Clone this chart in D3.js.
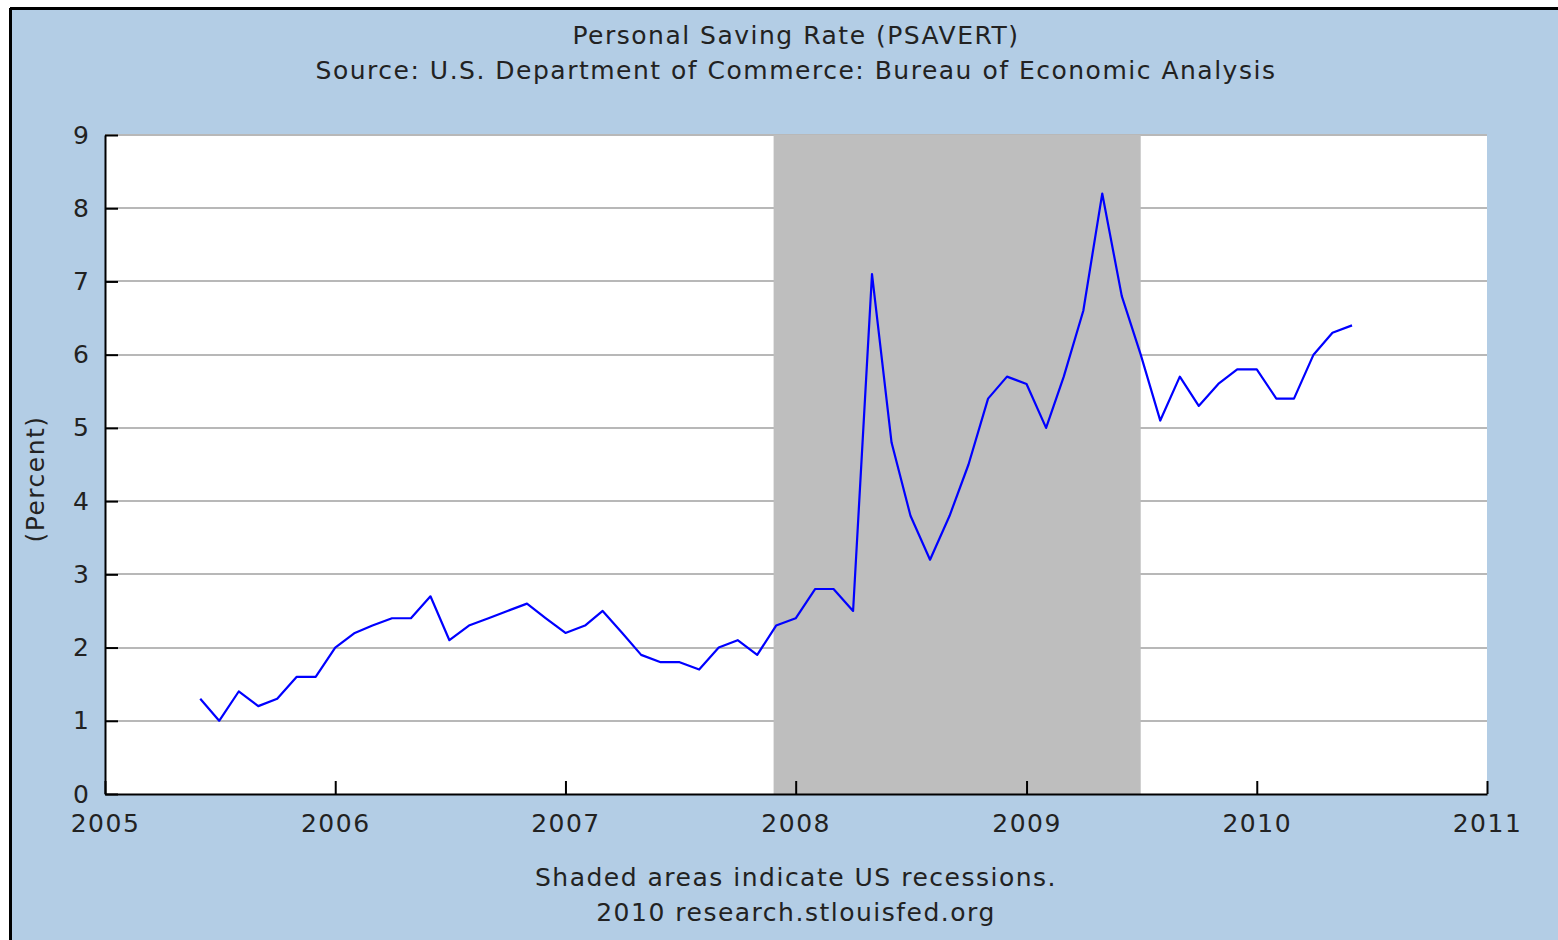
<!DOCTYPE html>
<html>
<head>
<meta charset="utf-8">
<script src="https://cdn.jsdelivr.net/npm/d3@7"></script>
<style>
  html, body { margin: 0; padding: 0; background: #ffffff; }
  svg { display: block; }
  text { font-family: "DejaVu Sans", Verdana, sans-serif; fill: #222; }
</style>
</head>
<body>
<svg id="chart" width="1558" height="940"></svg>
<script>
// ---- data ----
const startMonth = "2005-06";
const savingRate = [
  1.3, 1.0, 1.4, 1.2, 1.3, 1.6, 1.6,
  2.0, 2.2, 2.3, 2.4, 2.4, 2.7, 2.1, 2.3, 2.4, 2.5, 2.6, 2.4,
  2.2, 2.3, 2.5, 2.2, 1.9, 1.8, 1.8, 1.7, 2.0, 2.1, 1.9, 2.3,
  2.4, 2.8, 2.8, 2.5, 7.1, 4.8, 3.8, 3.2, 3.8, 4.5, 5.4, 5.7,
  5.6, 5.0, 5.7, 6.6, 8.2, 6.8, 6.0, 5.1, 5.7, 5.3, 5.6, 5.8,
  5.8, 5.4, 5.4, 6.0, 6.3, 6.4
];
const recessions = [["2007-11-27", "2009-07-01"]];
const xTickYears = [2005, 2006, 2007, 2008, 2009, 2010, 2011];
const yTicks = [0, 1, 2, 3, 4, 5, 6, 7, 8, 9];
const titleLines = ["Personal Saving Rate (PSAVERT)",
                    "Source: U.S. Department of Commerce: Bureau of Economic Analysis"];
const yLabel = "(Percent)";
const footLines = ["Shaded areas indicate US recessions.",
                   "2010 research.stlouisfed.org"];

// ---- build ----
const parseMonth = d3.timeParse("%Y-%m");
const parseDay = d3.timeParse("%Y-%m-%d");
const start = parseMonth(startMonth);
const series = savingRate.map((v, i) => ({ date: d3.timeMonth.offset(start, i), value: v }));

const svg = d3.select("#chart");
const W = 1558, H = 940;
const plot = { left: 105, right: 1487, top: 135, bottom: 794 };
const FS = 25, LS = 1.5;

// background + frame
svg.append("rect").attr("x", 0).attr("y", 0).attr("width", W).attr("height", H).attr("fill", "#ffffff");
svg.append("rect").attr("x", 10).attr("y", 8).attr("width", W - 10).attr("height", H - 8).attr("fill", "#b3cde5");
svg.append("line").attr("x1", 10).attr("x2", W).attr("y1", 8.5).attr("y2", 8.5).attr("stroke", "#000").attr("stroke-width", 3);
svg.append("line").attr("x1", 10.5).attr("x2", 10.5).attr("y1", 8).attr("y2", H).attr("stroke", "#000").attr("stroke-width", 3);

const x = d3.scaleTime()
  .domain([new Date(xTickYears[0], 0, 1), new Date(xTickYears[xTickYears.length - 1], 0, 1)])
  .range([plot.left, plot.right]);
const y = d3.scaleLinear().domain([0, 9]).range([plot.bottom, plot.top]);

// plot area
svg.append("rect").attr("x", plot.left).attr("y", plot.top)
  .attr("width", plot.right - plot.left).attr("height", plot.bottom - plot.top).attr("fill", "#ffffff");

// gridlines
svg.append("g").selectAll("line").data(yTicks.filter(d => d > 0)).join("line")
  .attr("x1", plot.left).attr("x2", plot.right)
  .attr("y1", d => Math.round(y(d))).attr("y2", d => Math.round(y(d)))
  .attr("stroke", "#b8b8b8").attr("stroke-width", 2);

// recession shading
svg.append("g").selectAll("rect").data(recessions).join("rect")
  .attr("x", d => x(parseDay(d[0])))
  .attr("width", d => x(parseDay(d[1])) - x(parseDay(d[0])))
  .attr("y", plot.top).attr("height", plot.bottom - plot.top)
  .attr("fill", "#bebebe");

// series line
svg.append("path").datum(series)
  .attr("fill", "none").attr("stroke", "#0000ff").attr("stroke-width", 2.2)
  .attr("stroke-linejoin", "round")
  .attr("d", d3.line().x(d => x(d.date)).y(d => y(d.value)));

// axes
const xAxis = d3.axisBottom(x)
  .tickValues(xTickYears.map(yr => new Date(yr, 0, 1)))
  .tickFormat(d3.timeFormat("%Y"))
  .tickSizeInner(-13).tickSizeOuter(0).tickPadding(20);
const gx = svg.append("g").attr("transform", `translate(0,${plot.bottom})`).call(xAxis);
gx.select(".domain").attr("stroke", "#000").attr("stroke-width", 2);
gx.selectAll(".tick line").attr("stroke", "#000").attr("stroke-width", 2);
gx.selectAll(".tick text").attr("font-size", FS).attr("fill", "#222")
  .attr("font-family", "DejaVu Sans, Verdana, sans-serif").attr("letter-spacing", LS);

const yAxis = d3.axisLeft(y).tickValues(yTicks).tickFormat(d3.format("d"))
  .tickSizeInner(-13).tickSizeOuter(0).tickPadding(16);
const gy = svg.append("g").attr("transform", `translate(${plot.left},0)`).call(yAxis);
gy.select(".domain").attr("stroke", "#000").attr("stroke-width", 2);
gy.selectAll(".tick line").attr("stroke", "#000").attr("stroke-width", 2);
gy.selectAll(".tick text").attr("font-size", FS).attr("fill", "#222")
  .attr("font-family", "DejaVu Sans, Verdana, sans-serif");

// titles
const cx = (plot.left + plot.right) / 2;
svg.append("g").selectAll("text").data(titleLines).join("text")
  .attr("x", cx).attr("y", (d, i) => 44 + i * 35)
  .attr("text-anchor", "middle").attr("font-size", FS).attr("letter-spacing", LS)
  .text(d => d);

svg.append("text")
  .attr("transform", `translate(44,479) rotate(-90)`)
  .attr("text-anchor", "middle").attr("font-size", FS).attr("letter-spacing", LS)
  .text(yLabel);

svg.append("g").selectAll("text").data(footLines).join("text")
  .attr("x", cx).attr("y", (d, i) => 886 + i * 35)
  .attr("text-anchor", "middle").attr("font-size", FS).attr("letter-spacing", LS)
  .text(d => d);
</script>
</body>
</html>
